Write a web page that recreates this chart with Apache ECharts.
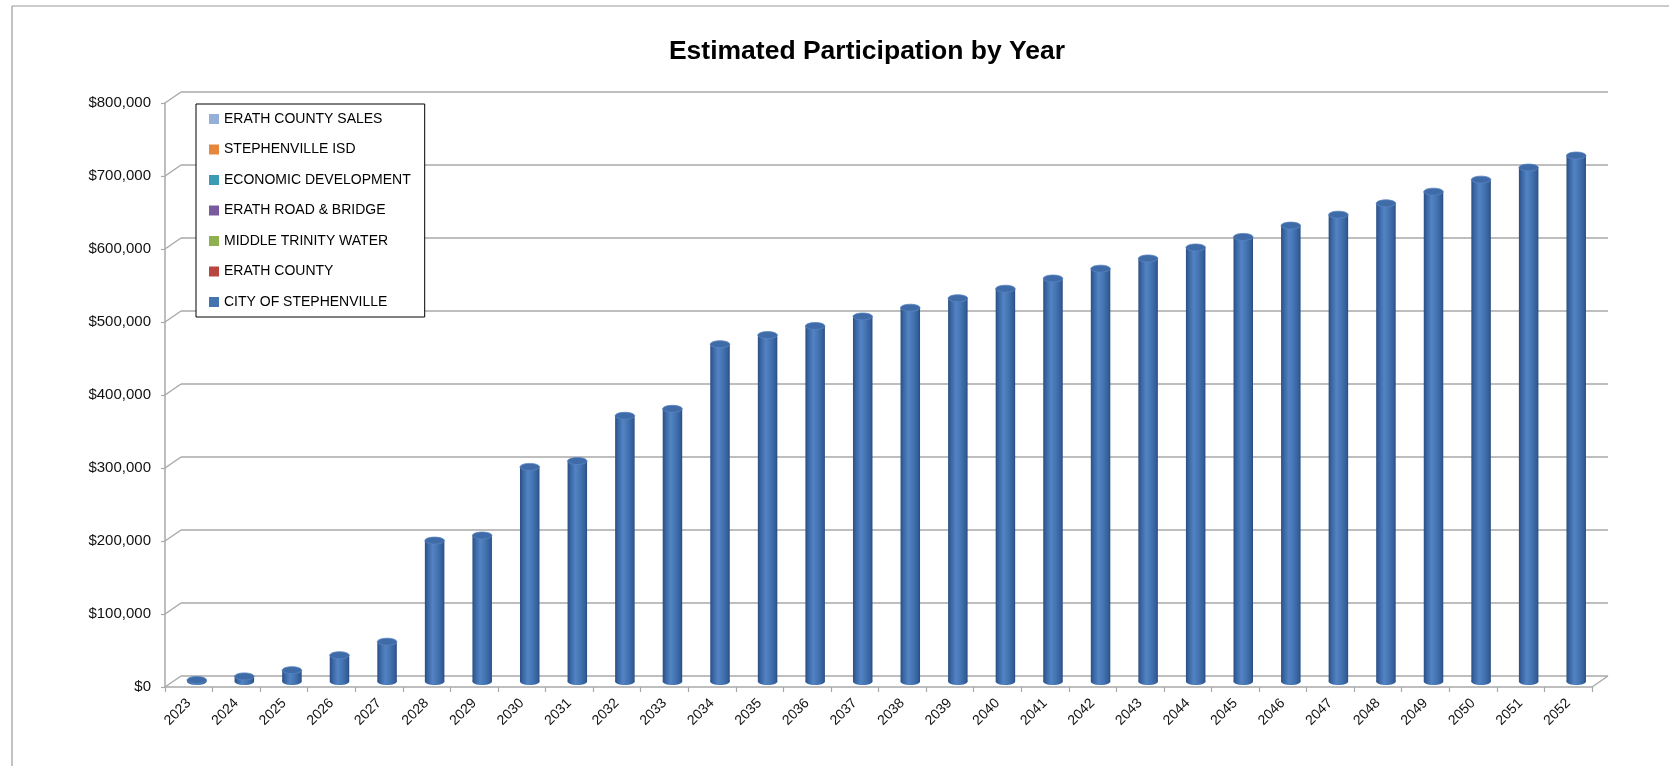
<!DOCTYPE html>
<html>
<head>
<meta charset="utf-8">
<title>Estimated Participation by Year</title>
<script src="https://cdn.jsdelivr.net/npm/echarts@6/dist/echarts.min.js"></script>
<style>
  html, body { margin: 0; padding: 0; background: #ffffff; }
  #chart { width: 1669px; height: 766px; }
</style>
</head>
<body>
<div id="chart"></div>
<script>
// Years on the category axis
const years = ['2023', '2024', '2025', '2026', '2027', '2028', '2029', '2030', '2031', '2032',
  '2033', '2034', '2035', '2036', '2037', '2038', '2039', '2040', '2041', '2042',
  '2043', '2044', '2045', '2046', '2047', '2048', '2049', '2050', '2051', '2052'];

// Participation by entity (only the city has amounts)
const erathCountySales = [];
const stephenvilleIsd = [];
const economicDevelopment = [];
const erathRoadBridge = [];
const middleTrinityWater = [];
const erathCounty = [];
const cityOfStephenville = [2000, 7000, 15500, 36000, 54500, 193000, 200000, 294000, 302000, 364000,
  373500, 462000, 474500, 487000, 500000, 512000, 525000, 538000, 552000, 565500,
  579500, 594500, 609000, 624500, 639500, 655000, 671000, 687500, 704000, 720500];

// Value axis ticks and their labels
const yTicks = [0, 100000, 200000, 300000, 400000, 500000, 600000, 700000, 800000];
const yTickLabels = ['$0', '$100,000', '$200,000', '$300,000', '$400,000', '$500,000', '$600,000', '$700,000', '$800,000'];

// Series names in legend order, with their colours
const seriesNames = ['ERATH COUNTY SALES', 'STEPHENVILLE ISD', 'ECONOMIC DEVELOPMENT', 'ERATH ROAD & BRIDGE',
  'MIDDLE TRINITY WATER', 'ERATH COUNTY', 'CITY OF STEPHENVILLE'];
const seriesColors = ['#95b0d8', '#e5863a', '#3b9bb4', '#7a5a9e', '#8fb04e', '#b8463f', '#4573b0'];
const seriesData = [erathCountySales, stephenvilleIsd, economicDevelopment, erathRoadBridge,
  middleTrinityWater, erathCounty, cityOfStephenville];

// Depth of the pseudo-3D box (back wall offset from the front plane)
const DX = 16, DY = 11;
const FONT = 'Liberation Sans';
const GRID_COLOR = '#a9a9a9';

// Cylinder: shaded body, bottom cap and top cap, centred halfway into the depth
function renderCylinder(params, api) {
  const i = api.value(0);
  const v = api.value(1);
  const base = api.coord([i, 0]);
  const top = api.coord([i, v]);
  const cx = base[0] + DX / 2;
  const by = base[1] - DY / 2;
  const ty = top[1] - DY / 2;
  const w = api.size([1, 0])[0] * 0.41;
  const rx = w / 2, ry = 3.5;
  const body = new echarts.graphic.LinearGradient(0, 0, 1, 0, [
    { offset: 0, color: '#2b4e82' },
    { offset: 0.15, color: '#3966a4' },
    { offset: 0.4, color: '#5383c3' },
    { offset: 0.65, color: '#4474b2' },
    { offset: 0.9, color: '#335f9a' },
    { offset: 1, color: '#294b7e' }
  ]);
  return {
    type: 'group',
    children: [
      { type: 'rect', shape: { x: cx - rx, y: ty, width: w, height: Math.max(0, by - ty) }, style: { fill: body } },
      { type: 'ellipse', shape: { cx: cx, cy: by, rx: rx, ry: ry }, style: { fill: body } },
      { type: 'ellipse', shape: { cx: cx, cy: ty, rx: rx, ry: ry },
        style: { fill: '#3f6ca8', stroke: '#5a85bf', lineWidth: 0.8 } }
    ]
  };
}

// Left wall and floor edges: diagonals from each front tick to the back wall
function renderFrame(params, api) {
  const cs = params.coordSys;
  const v = api.value(1);
  const y = api.coord([0, v])[1];
  const style = { stroke: GRID_COLOR, lineWidth: 1.5 };
  const children = [
    { type: 'line', shape: { x1: cs.x, y1: y, x2: cs.x + DX, y2: y - DY }, style: style }
  ];
  if (v === 0) {
    const xr = cs.x + cs.width;
    children.push({ type: 'line', shape: { x1: xr, y1: y, x2: xr + DX, y2: y - DY }, style: style });
  }
  return { type: 'group', children: children };
}

const series = seriesNames.map((name, k) => ({
  name: name,
  type: 'custom',
  xAxisIndex: 0,
  yAxisIndex: 0,
  z: 5,
  itemStyle: { color: seriesColors[k] },
  renderItem: renderCylinder,
  data: seriesData[k].map((v, i) => [i, v])
}));

series.push({
  name: 'frame',
  type: 'custom',
  xAxisIndex: 0,
  yAxisIndex: 0,
  z: 1,
  silent: true,
  renderItem: renderFrame,
  data: yTicks.map(v => [0, v])
});

const option = {
  animation: false,
  color: seriesColors,
  textStyle: { fontFamily: FONT },
  graphic: [
    { type: 'line', shape: { x1: 12, y1: 6, x2: 12, y2: 766 }, style: { stroke: '#9a9a9a', lineWidth: 1.2 } },
    { type: 'line', shape: { x1: 12, y1: 6, x2: 1669, y2: 6 }, style: { stroke: '#9a9a9a', lineWidth: 1.2 } },
    { type: 'text', x: 867, y: 52,
      style: { text: 'Estimated Participation by Year', fontFamily: FONT, fontSize: 26.5, fontWeight: 'bold',
               fill: '#000', align: 'center', verticalAlign: 'middle' } }
  ],
  legend: {
    data: seriesNames.map(n => ({ name: n, icon: 'rect' })),
    orient: 'vertical',
    left: 196,
    top: 104,
    itemWidth: 10,
    itemHeight: 10,
    itemGap: 16.5,
    padding: [8, 14, 8, 13],
    borderColor: '#000',
    borderWidth: 1,
    backgroundColor: '#fff',
    selectedMode: false,
    textStyle: { fontFamily: FONT, fontSize: 14, color: '#000' }
  },
  grid: [
    { left: 165, right: 77, top: 103, bottom: 79 },
    { left: 165 + DX, right: 77 - DX, top: 103 - DY, bottom: 79 + DY }
  ],
  xAxis: [
    {
      gridIndex: 0, type: 'category', data: years, boundaryGap: true,
      axisLine: { show: true, lineStyle: { color: GRID_COLOR, width: 1.5 } },
      axisTick: { show: true, length: 5, lineStyle: { color: GRID_COLOR, width: 1.2 } },
      axisLabel: { interval: 0, rotate: 45, margin: 14, fontFamily: FONT, fontSize: 14, color: '#111' },
      splitLine: { show: false }
    },
    { gridIndex: 1, type: 'category', data: years, show: false }
  ],
  yAxis: [
    {
      gridIndex: 0, type: 'value', min: 0, max: 800000, interval: 100000,
      axisLine: { show: true, lineStyle: { color: GRID_COLOR, width: 1.5 } },
      axisTick: { show: true, length: 4, lineStyle: { color: GRID_COLOR, width: 1.2 } },
      axisLabel: {
        margin: 14, fontFamily: FONT, fontSize: 15, color: '#111',
        formatter: v => yTickLabels[yTicks.indexOf(v)]
      },
      splitLine: { show: false }
    },
    {
      gridIndex: 1, type: 'value', min: 0, max: 800000, interval: 100000,
      axisLine: { show: false }, axisTick: { show: false }, axisLabel: { show: false },
      splitLine: { show: true, lineStyle: { color: GRID_COLOR, width: 1.5 } }
    }
  ],
  series: series
};

const chart = echarts.init(document.getElementById('chart'), null, { renderer: 'canvas' });
chart.setOption(option);
</script>
</body>
</html>
